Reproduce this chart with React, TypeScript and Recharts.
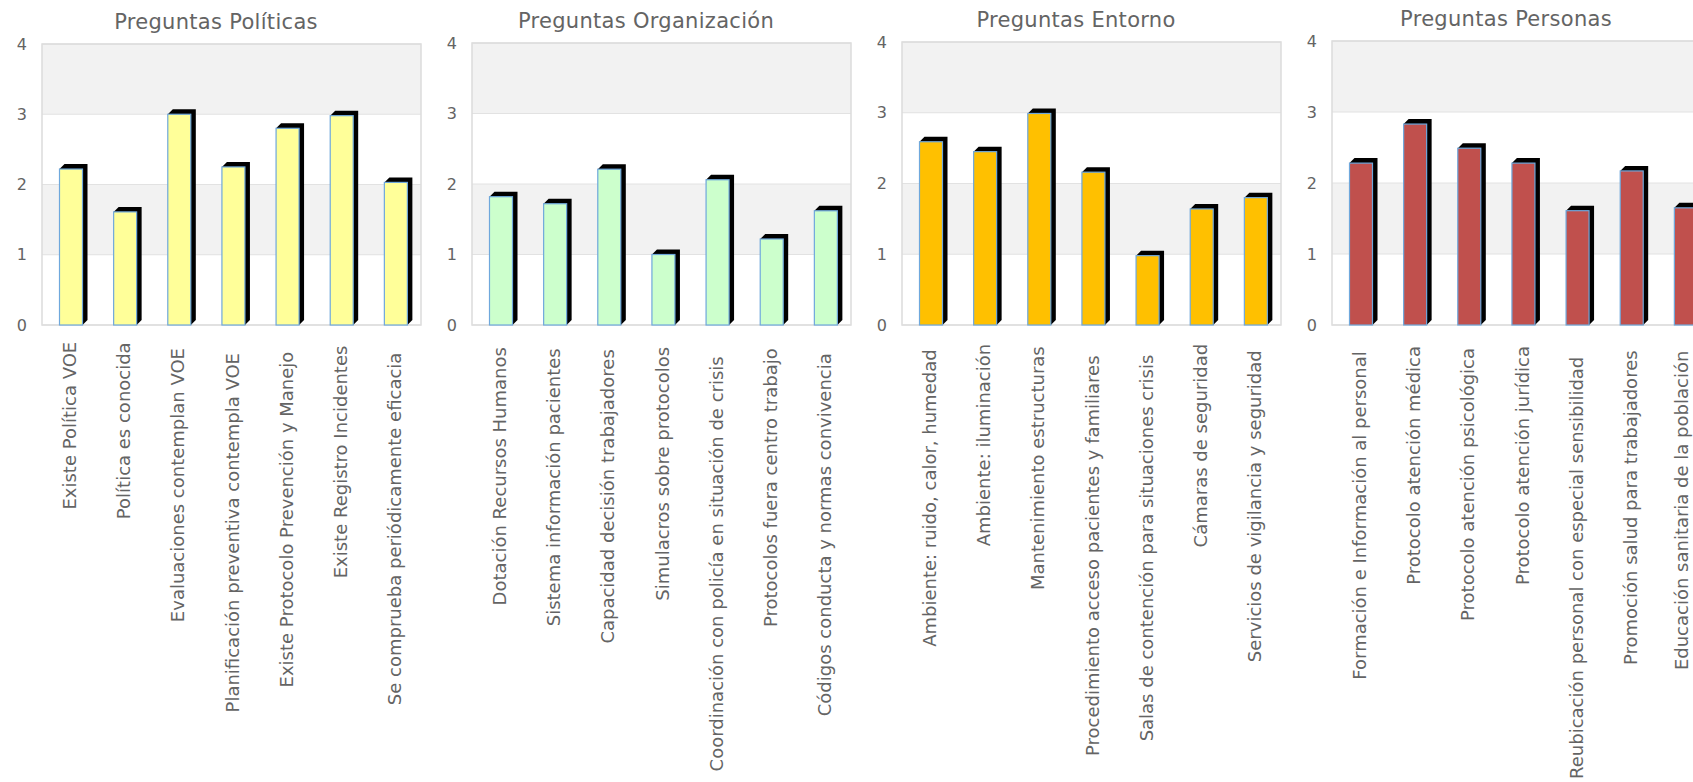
import React from 'react';
import { BarChart, Bar, XAxis, YAxis, CartesianGrid, ReferenceArea } from 'recharts';

// ---- Data ----
const politicasLabels = [
  'Existe Política VOE',
  'Política es conocida',
  'Evaluaciones contemplan VOE',
  'Planificación preventiva contempla VOE',
  'Existe Protocolo Prevención y Manejo',
  'Existe Registro Incidentes',
  'Se comprueba periódicamente eficacia',
];
const politicasValues = [2.22, 1.61, 3.0, 2.25, 2.8, 2.98, 2.03];

const organizacionLabels = [
  'Dotación Recursos Humanos',
  'Sistema información pacientes',
  'Capacidad decisión trabajadores',
  'Simulacros sobre protocolos',
  'Coordinación con policía en situación de crisis',
  'Protocolos fuera centro trabajo',
  'Códigos conducta y normas convivencia',
];
const organizacionValues = [1.82, 1.72, 2.21, 1.0, 2.06, 1.22, 1.62];

const entornoLabels = [
  'Ambiente: ruido, calor, humedad',
  'Ambiente: iluminación',
  'Mantenimiento estructuras',
  'Procedimiento acceso pacientes y familiares',
  'Salas de contención para situaciones crisis',
  'Cámaras de seguridad',
  'Servicios de vigilancia y seguridad',
];
const entornoValues = [2.59, 2.45, 2.99, 2.16, 0.98, 1.64, 1.8];

const personasLabels = [
  'Formación e Información al personal',
  'Protocolo atención médica',
  'Protocolo atención psicológica',
  'Protocolo atención jurídica',
  'Reubicación personal con especial sensibilidad',
  'Promoción salud para trabajadores',
  'Educación sanitaria de la población',
];
const personasValues = [2.28, 2.83, 2.49, 2.28, 1.61, 2.17, 1.65];

const yTicks = [0, 1, 2, 3, 4];

// ---- Styling ----
const FONT = '"DejaVu Sans", Verdana, sans-serif';
const TEXT = '#646464';
const PANEL_W = 430;
const PAGE_W = 1693;
const PAGE_H = 782;
const AXIS_Y = 325;

let measureCtx: CanvasRenderingContext2D | null = null;
function textWidth(s: string, size: number): number {
  try {
    if (!measureCtx) measureCtx = document.createElement('canvas').getContext('2d');
    if (measureCtx) {
      measureCtx.font = `${size}px "DejaVu Sans"`;
      return measureCtx.measureText(s).width;
    }
  } catch (e) {
    /* fall through */
  }
  return s.length * size * 0.55;
}

// Vertical category label, reading bottom to top; kept inside the page edge
function QuestionTick(props: any) {
  const { x, y, payload, maxBaseline } = props;
  const label = String(payload.value);
  const w = textWidth(label, 18);
  const top = y + 7 + w * 0.0585;
  const baseline = Math.min(x + 7, maxBaseline ?? Infinity);
  return (
    <text
      transform={`translate(${baseline},${top}) rotate(-90)`}
      textAnchor="end"
      fontSize={18}
      fontFamily={FONT}
      fill={TEXT}
    >
      {label}
    </text>
  );
}

// Bar with a black extruded top and right side
function Bar3D(props: any) {
  const { x, y, width, height, fill } = props;
  if (height == null || height <= 0) return null;
  const W = 23;
  const D = 5;
  const fx = x + width / 2 - W / 2 + 2;
  const bottom = y + height;
  const pts = `${fx},${y} ${fx + D},${y - D} ${fx + W + D},${y - D} ${fx + W + D},${bottom - D} ${fx + W},${bottom}`;
  return (
    <g>
      <polygon points={pts} fill="#000000" />
      <rect x={fx} y={y} width={W} height={height} fill={fill} stroke="#6fa8dc" strokeWidth={1.2} />
    </g>
  );
}

type PanelProps = {
  title: string;
  labels: string[];
  values: number[];
  color: string;
  left: number;
  top: number;
};

function Panel({ title, labels, values, color, left, top }: PanelProps) {
  const data = labels.map((q, i) => ({ q, v: values[i] }));
  const maxBaseline = PAGE_W - left - 5;
  return (
    <div style={{ position: 'absolute', left, top: 0, width: PANEL_W, height: PAGE_H }}>
      <BarChart
        width={PANEL_W}
        height={PAGE_H}
        data={data}
        margin={{ top, right: 10, left: 0, bottom: 0 }}
        barCategoryGap="10%"
      >
        <CartesianGrid vertical={false} stroke="#e2e2e2" horizontalFill={['#f2f2f2', '#ffffff']} />
        <XAxis
          dataKey="q"
          interval={0}
          height={PAGE_H - AXIS_Y}
          tick={<QuestionTick maxBaseline={maxBaseline} />}
          tickLine={false}
          axisLine={false}
          tickSize={0}
          tickMargin={0}
        />
        <YAxis
          domain={[0, 4]}
          ticks={yTicks}
          width={41}
          tickLine={false}
          axisLine={false}
          tickSize={0}
          tickMargin={15}
          tick={{ fontSize: 16, fill: TEXT, fontFamily: FONT }}
        />
        <ReferenceArea y1={0} y2={4} fill="none" stroke="#dcdcdc" strokeWidth={1.5} />
        <Bar dataKey="v" fill={color} barSize={24} shape={<Bar3D />} isAnimationActive={false} />
      </BarChart>
      <div
        style={{
          position: 'absolute',
          left: 0,
          top: top - 34,
          width: PANEL_W,
          textAlign: 'center',
          fontFamily: FONT,
          fontSize: 21,
          lineHeight: '24px',
          letterSpacing: 0.3,
          color: TEXT,
          pointerEvents: 'none',
        }}
      >
        {title}
      </div>
    </div>
  );
}

export default function App() {
  return (
    <div
      style={{
        position: 'absolute',
        left: 0,
        top: 0,
        width: PAGE_W,
        height: PAGE_H,
        overflow: 'hidden',
        background: '#ffffff',
      }}
    >
      <Panel title="Preguntas Políticas" labels={politicasLabels} values={politicasValues} color="#ffff99" left={1} top={44} />
      <Panel title="Preguntas Organización" labels={organizacionLabels} values={organizacionValues} color="#ccffcc" left={431} top={43} />
      <Panel title="Preguntas Entorno" labels={entornoLabels} values={entornoValues} color="#ffc000" left={861} top={42} />
      <Panel title="Preguntas Personas" labels={personasLabels} values={personasValues} color="#c0504d" left={1291} top={41} />
    </div>
  );
}
